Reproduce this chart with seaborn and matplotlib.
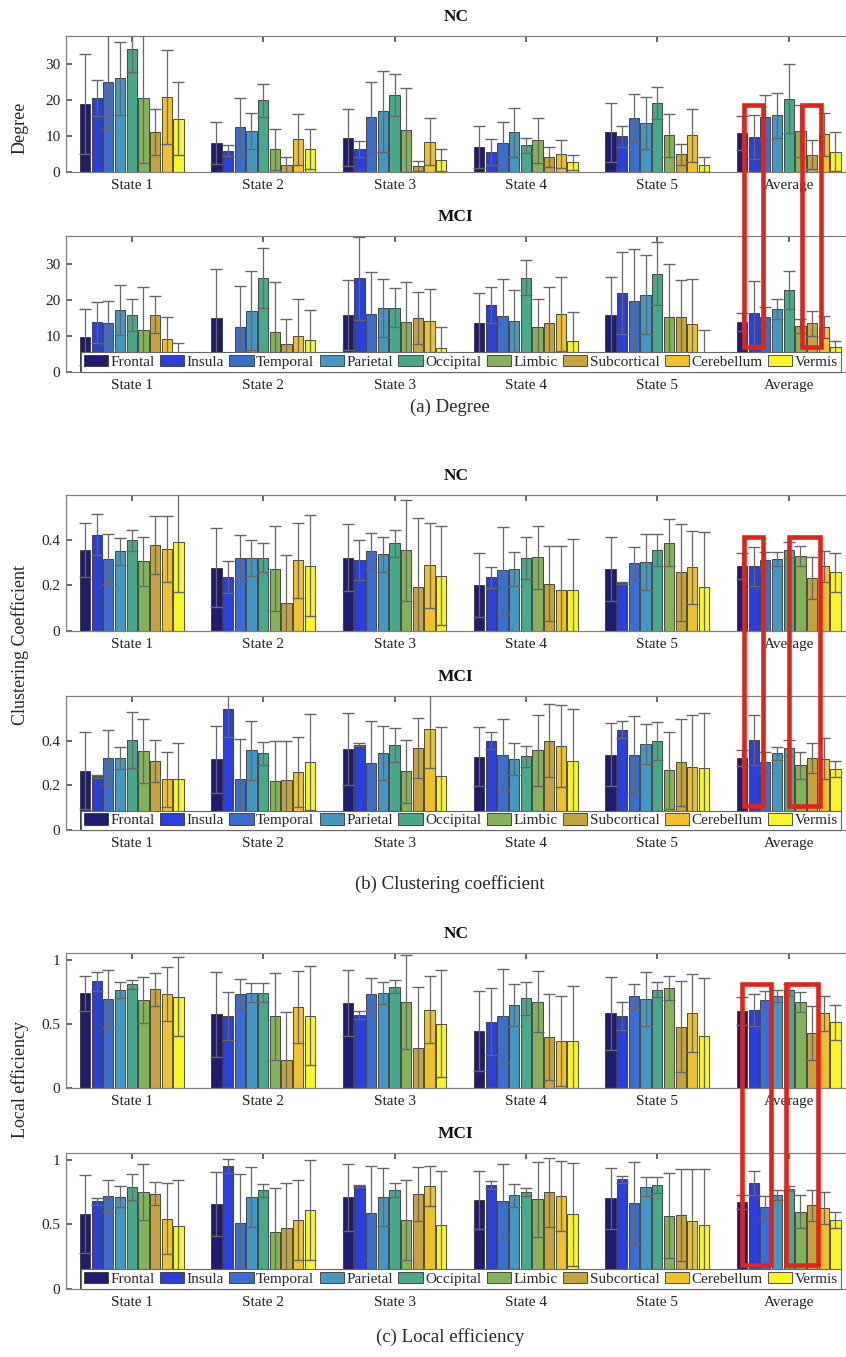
import numpy as np
import pandas as pd
import matplotlib
matplotlib.use("Agg")
import matplotlib.pyplot as plt
import seaborn as sns
from matplotlib.patches import Rectangle, Patch

sns.set_theme(style="white")
plt.rcParams["font.family"] = ["Liberation Serif", "DejaVu Serif"]

STATES = ["State 1", "State 2", "State 3", "State 4", "State 5", "Average"]
REGIONS = ["Frontal", "Insula", "Temporal", "Parietal", "Occipital",
           "Limbic", "Subcortical", "Cerebellum", "Vermis"]
COLORS = ["#1f1b6e", "#2a3fdc", "#3b6cd0", "#4596c0", "#4aa88a",
          "#84b25a", "#c4a43f", "#efc12a", "#f7f523"]

# ---------------- Degree ----------------
DEG_NC_MEAN = [[18.9, 20.4, 25.0, 25.9, 34.0, 20.5, 11.1, 20.7, 14.7],
               [7.9, 5.8, 12.3, 11.4, 19.8, 6.3, 1.9, 9.0, 6.3],
               [9.5, 6.4, 15.1, 16.8, 21.3, 11.5, 1.7, 8.3, 3.3],
               [6.8, 5.5, 7.9, 11.0, 7.3, 8.7, 4.1, 4.9, 2.6],
               [10.9, 9.9, 15.0, 13.5, 19.1, 10.1, 4.8, 10.1, 1.9],
               [10.8, 9.6, 15.1, 15.7, 20.3, 11.4, 4.7, 10.4, 5.6]]
DEG_NC_STD = [[13.9, 5.0, 13.3, 10.2, 6.4, 18.2, 6.4, 13.0, 10.1],
              [5.8, 1.5, 8.2, 5.0, 4.5, 5.7, 2.2, 7.0, 5.6],
              [8.0, 2.2, 9.9, 11.3, 5.8, 11.7, 1.4, 6.5, 3.1],
              [5.9, 3.6, 5.9, 6.8, 2.0, 6.3, 2.7, 4.0, 2.1],
              [8.2, 2.9, 6.7, 7.2, 4.4, 6.0, 3.0, 7.4, 2.1],
              [4.8, 6.2, 6.3, 6.2, 9.5, 7.2, 4.0, 6.0, 5.5]]
DEG_MCI_MEAN = [[9.6, 13.8, 13.5, 17.1, 15.8, 11.7, 15.8, 9.2, 4.0],
                [14.9, 2.5, 12.5, 17.0, 26.0, 10.9, 7.6, 9.9, 8.9],
                [15.8, 25.9, 16.1, 17.7, 17.8, 13.8, 15.0, 14.0, 6.7],
                [13.6, 18.4, 15.4, 14.0, 26.1, 12.3, 13.5, 16.0, 8.5],
                [15.7, 21.9, 19.7, 21.4, 27.2, 15.2, 15.2, 13.2, 2.5],
                [13.8, 16.4, 15.3, 17.4, 22.6, 12.7, 13.4, 12.4, 6.9]]
DEG_MCI_STD = [[7.8, 5.7, 6.1, 7.0, 4.5, 11.7, 5.1, 6.0, 3.9],
               [13.7, 2.0, 11.3, 11.0, 8.3, 13.9, 7.1, 10.2, 8.3],
               [9.7, 11.4, 11.6, 8.0, 5.5, 11.1, 7.2, 8.9, 5.8],
               [8.3, 5.0, 10.4, 8.6, 4.9, 8.0, 9.9, 10.2, 8.1],
               [10.5, 11.3, 14.3, 11.0, 8.8, 14.8, 10.3, 12.5, 9.2],
               [2.5, 8.9, 2.8, 2.7, 5.3, 2.0, 3.5, 3.0, 1.7]]

# ---------------- Clustering coefficient ----------------
CLU_NC_MEAN = [[.356, .424, .317, .352, .400, .306, .377, .361, .393],
               [.278, .238, .321, .321, .322, .275, .124, .311, .287],
               [.322, .312, .352, .337, .386, .355, .193, .289, .243],
               [.202, .237, .267, .272, .322, .324, .208, .181, .181],
               [.272, .212, .299, .302, .355, .389, .259, .280, .194],
               [.287, .284, .312, .317, .356, .330, .233, .284, .259]]
CLU_NC_STD = [[.120, .090, .110, .060, .047, .107, .128, .146, .220],
              [.175, .072, .100, .078, .064, .190, .210, .166, .224],
              [.148, .090, .078, .079, .059, .222, .307, .187, .220],
              [.141, .046, .193, .075, .093, .138, .166, .193, .223],
              [.141, .005, .072, .124, .071, .105, .214, .160, .242],
              [.057, .085, .035, .032, .036, .043, .092, .068, .086]]
CLU_MCI_MEAN = [[.265, .241, .323, .323, .403, .354, .311, .227, .228],
                [.316, .541, .227, .356, .344, .219, .225, .259, .305],
                [.363, .382, .299, .344, .382, .262, .367, .453, .244],
                [.329, .400, .338, .319, .330, .356, .400, .376, .310],
                [.338, .450, .336, .384, .399, .267, .304, .284, .276],
                [.323, .403, .305, .344, .367, .289, .323, .320, .273]]
CLU_MCI_STD = [[.172, .006, .127, .050, .127, .142, .094, .123, .163],
               [.149, .123, .179, .133, .052, .180, .174, .156, .216],
               [.163, .008, .187, .120, .076, .140, .134, .176, .215],
               [.132, .038, .161, .071, .047, .158, .163, .184, .234],
               [.142, .036, .174, .090, .085, .172, .195, .232, .250],
               [.037, .110, .046, .029, .036, .060, .066, .093, .037]]

# ---------------- Local efficiency ----------------
LE_NC_MEAN = [[.740, .833, .693, .766, .810, .688, .773, .732, .714],
              [.576, .566, .737, .745, .745, .561, .218, .633, .566],
              [.664, .573, .734, .745, .791, .672, .314, .612, .503],
              [.446, .519, .563, .651, .703, .675, .400, .371, .368],
              [.586, .563, .721, .695, .768, .781, .480, .586, .407],
              [.600, .612, .688, .719, .766, .672, .431, .584, .514]]
LE_NC_STD = [[.135, .073, .227, .061, .034, .178, .128, .210, .310],
             [.332, .188, .117, .074, .074, .340, .374, .283, .386],
             [.257, .030, .125, .087, .050, .366, .477, .262, .418],
             [.315, .263, .363, .162, .128, .239, .334, .350, .430],
             [.285, .110, .093, .211, .057, .092, .355, .304, .452],
             [.109, .126, .071, .050, .046, .078, .207, .135, .139]]
LE_MCI_MEAN = [[.580, .679, .720, .715, .790, .749, .736, .544, .489],
               [.660, .956, .508, .712, .764, .438, .474, .536, .611],
               [.710, .798, .590, .712, .767, .531, .736, .798, .497],
               [.689, .806, .684, .725, .754, .694, .749, .720, .578],
               [.702, .850, .666, .792, .806, .567, .575, .528, .497],
               [.671, .821, .635, .728, .777, .598, .648, .627, .533]]
LE_MCI_STD = [[.306, .026, .122, .079, .102, .217, .089, .276, .353],
              [.249, .054, .380, .230, .053, .342, .347, .311, .388],
              [.262, .010, .360, .225, .056, .310, .210, .153, .417],
              [.227, .029, .283, .087, .031, .293, .270, .276, .400],
              [.235, .026, .317, .073, .060, .330, .357, .400, .430],
              [.054, .097, .084, .040, .020, .126, .122, .127, .060]]

W, H = 846, 1357
fig = plt.figure(figsize=(W / 100, H / 100), dpi=100)

AX_LEFT, AX_RIGHT = 66, 846
GROUP_PX = 131.4


def rect(top, bottom):
    return [AX_LEFT / W, 1 - bottom / H, (AX_RIGHT - AX_LEFT) / W, (bottom - top) / H]


panels = [
    dict(mean=DEG_NC_MEAN, std=DEG_NC_STD, ylim=37.7, ticks=[0, 10, 20, 30], tl=["0", "10", "20", "30"],
         title="NC", top=36, bottom=171.7, legend=False),
    dict(mean=DEG_MCI_MEAN, std=DEG_MCI_STD, ylim=37.7, ticks=[0, 10, 20, 30], tl=["0", "10", "20", "30"],
         title="MCI", top=236, bottom=371.7, legend=True),
    dict(mean=CLU_NC_MEAN, std=CLU_NC_STD, ylim=0.6, ticks=[0, 0.2, 0.4], tl=["0", "0.2", "0.4"],
         title="NC", top=495, bottom=630.7, legend=False),
    dict(mean=CLU_MCI_MEAN, std=CLU_MCI_STD, ylim=0.6, ticks=[0, 0.2, 0.4], tl=["0", "0.2", "0.4"],
         title="MCI", top=696, bottom=830, legend=True),
    dict(mean=LE_NC_MEAN, std=LE_NC_STD, ylim=1.052, ticks=[0, 0.5, 1], tl=["0", "0.5", "1"],
         title="NC", top=953.3, bottom=1088.3, legend=False),
    dict(mean=LE_MCI_MEAN, std=LE_MCI_STD, ylim=1.052, ticks=[0, 0.5, 1], tl=["0", "0.5", "1"],
         title="MCI", top=1153.3, bottom=1288.6, legend=True),
]

axes = []
for p in panels:
    ax = fig.add_axes(rect(p["top"], p["bottom"]))
    mean = np.asarray(p["mean"])
    std = np.asarray(p["std"])
    df = pd.DataFrame({"state": np.repeat(STATES, len(REGIONS)),
                       "region": np.tile(REGIONS, len(STATES)),
                       "value": mean.ravel()})
    sns.barplot(data=df, x="state", y="value", hue="region", order=STATES,
                hue_order=REGIONS, palette=COLORS, saturation=1, width=0.8,
                gap=0.12, errorbar=None, edgecolor="#333333", linewidth=0.6,
                legend=False, ax=ax)
    bar_containers = list(ax.containers)[:len(REGIONS)]
    for j, cont in enumerate(bar_containers):
        xs = [b.get_x() + b.get_width() / 2 for b in cont.patches]
        eb = ax.errorbar(xs, mean[:, j], yerr=std[:, j], fmt="none",
                         ecolor="#666666", elinewidth=0.9, capsize=4,
                         capthick=1.0, zorder=3)
        for cl in eb[1]:
            cl.set_color("#222222")
    ax.set_ylim(0, p["ylim"])
    ax.set_xlim(-0.5, -0.5 + (AX_RIGHT - AX_LEFT) / GROUP_PX)
    ax.set_yticks(p["ticks"])
    ax.set_yticklabels(p["tl"])
    ax.set_xlabel("")
    ax.set_ylabel("")
    ax.tick_params(axis="x", direction="in", length=4, top=True, bottom=True,
                   labelsize=11, pad=5, color="#555555", labelcolor="#222222")
    ax.tick_params(axis="y", direction="in", length=4, left=True,
                   labelsize=11, pad=4, color="#555555", labelcolor="#222222")
    for s in ax.spines.values():
        s.set_color("#808080")
        s.set_linewidth(0.9)
    ax.spines["right"].set_visible(False)
    fig.text(0.5 * (AX_LEFT + 846) / W, 1 - (p["top"] - 19) / H, p["title"],
             ha="center", va="center", fontsize=12.5, fontweight="bold", color="#111111")
    if p["legend"]:
        handles = [Patch(facecolor=c, edgecolor="#333333", linewidth=0.6) for c in COLORS]
        leg = ax.legend(handles, REGIONS, ncol=9, loc="lower center",
                        bbox_to_anchor=(0.506, 0.0), borderaxespad=0.0,
                        frameon=True, fancybox=False, framealpha=1,
                        edgecolor="#666666", fontsize=11, handlelength=1.6,
                        handleheight=0.75, handletextpad=0.15, columnspacing=0.35,
                        borderpad=0.18)
        leg.set_zorder(6)
        leg.get_frame().set_linewidth(0.8)
    axes.append(ax)

# axis labels and captions
fig.text(20 / W, 1 - 128 / H, "Degree", rotation=90, ha="center", va="center", fontsize=13)
fig.text(20 / W, 1 - 645 / H, "Clustering Coefficient", rotation=90, ha="center", va="center", fontsize=13)
fig.text(20 / W, 1 - 1080 / H, "Local efficiency", rotation=90, ha="center", va="center", fontsize=13)
fig.text(450 / W, 1 - 407 / H, "(a) Degree", ha="center", va="center", fontsize=13.5)
fig.text(450 / W, 1 - 884 / H, "(b) Clustering coefficient", ha="center", va="center", fontsize=13.5)
fig.text(450 / W, 1 - 1337 / H, "(c) Local efficiency", ha="center", va="center", fontsize=13.5)

# red highlight boxes around the Average group (offsets relative to the group centre)
AVG = STATES.index("Average")
BOXES = [  # (nc axis, mci axis, x offsets, top value on NC, bottom value on MCI)
    (0, 1, (-0.339, -0.196), 18.5, 6.9),
    (0, 1, (0.100, 0.243), 18.5, 6.9),
    (2, 3, (-0.339, -0.196), 0.414, 0.107),
    (2, 3, (0.004, 0.235), 0.414, 0.107),
    (4, 5, (-0.359, -0.133), 0.812, 0.187),
    (4, 5, (-0.017, 0.222), 0.812, 0.187),
]
inv = fig.transFigure.inverted()
for a_top, a_bot, (o0, o1), vtop, vbot in BOXES:
    x0, y1 = inv.transform(axes[a_top].transData.transform((AVG + o0, vtop)))
    x1, _ = inv.transform(axes[a_top].transData.transform((AVG + o1, vtop)))
    _, y0 = inv.transform(axes[a_bot].transData.transform((AVG + o0, vbot)))
    fig.add_artist(Rectangle((x0, y0), x1 - x0, y1 - y0, fill=False,
                             edgecolor="#e2231a", linewidth=3.3,
                             transform=fig.transFigure, zorder=20))

fig.savefig("out.png", dpi=100)
